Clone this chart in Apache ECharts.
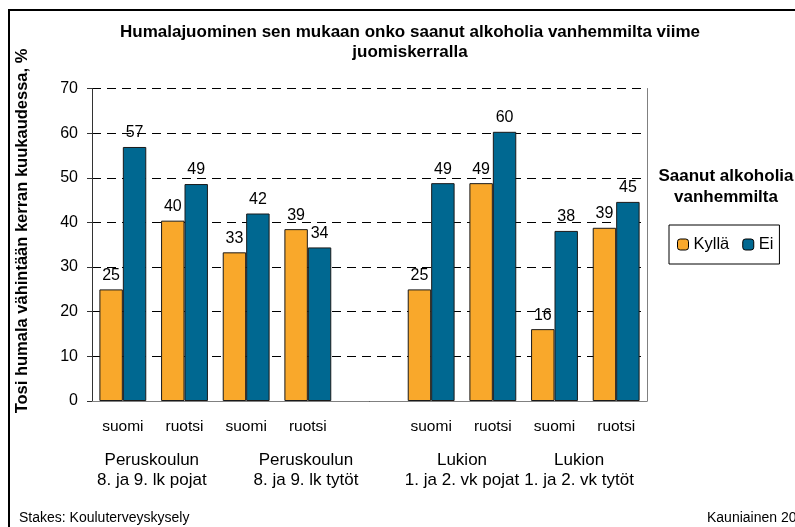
<!DOCTYPE html>
<html>
<head>
<meta charset="utf-8">
<script src="https://cdn.jsdelivr.net/npm/echarts@6/dist/echarts.min.js"></script>
<style>
html, body { margin: 0; padding: 0; background: #fff; }
#chart { width: 795px; height: 527px; }
</style>
</head>
<body>
<div id="chart"></div>
<script>
// data (bar heights; labels are rounded)
const categories = ['suomi', 'ruotsi', 'suomi', 'ruotsi', '', 'suomi', 'ruotsi', 'suomi', 'ruotsi']
const kylla = [25.0, 40.4, 33.3, 38.5, null, 25.0, 48.8, 16.1, 38.8]
const ei = [56.9, 48.6, 42.0, 34.4, null, 48.8, 60.3, 38.1, 44.6]
const groupLabels = ['Peruskoulun\n8. ja 9. lk pojat', 'Peruskoulun\n8. ja 9. lk tytöt', 'Lukion\n1. ja 2. vk pojat', 'Lukion\n1. ja 2. vk tytöt']
const groupPos = [0.97, 3.47, 6, 7.9]
const yMin = 0
const yMax = 70
const yStep = 10

const font = 'Arial, "Liberation Sans", sans-serif'
const txt = (size = 15, weight = 'normal') => ({
	color: '#000',
	fontFamily: font,
	fontSize: size,
	fontWeight: weight,
})

const chart = echarts.init(document.getElementById('chart'))

const barLabel = {
	show: true,
	position: 'top',
	distance: 6,
	...txt(16),
	formatter: (p) => (p.value == null ? '' : Math.round(p.value)),
}

chart.setOption({
	animation: false,
	title: [
		{
			text: 'Humalajuominen sen mukaan onko saanut alkoholia vanhemmilta viime\njuomiskerralla',
			left: 410,
			top: 22,
			textAlign: 'center',
			padding: 0,
			textStyle: { ...txt(17, 'bold'), lineHeight: 20 },
		},
		{
			text: 'Saanut alkoholia\nvanhemmilta',
			left: 726,
			top: 166,
			textAlign: 'center',
			padding: 0,
			textStyle: { ...txt(17, 'bold'), lineHeight: 21 },
		},
		{
			text: 'Stakes: Kouluterveyskysely',
			left: 19,
			top: 511,
			padding: 0,
			textStyle: txt(14),
		},
		{
			text: 'Kauniainen 2006',
			left: 707,
			top: 511,
			padding: 0,
			textStyle: txt(14),
		},
	],
	graphic: [
		{
			type: 'rect',
			shape: { x: 9, y: 10, width: 800, height: 530 },
			style: { fill: 'none', stroke: '#000', lineWidth: 2 },
			silent: true,
		},
		{
			type: 'text',
			x: 22,
			y: 231,
			rotation: Math.PI / 2,
			style: {
				text: 'Tosi humala vähintään kerran kuukaudessa, %',
				align: 'center',
				verticalAlign: 'middle',
				fill: '#000',
				font: 'bold 16.5px ' + font,
			},
		},
	],
	legend: {
		data: ['Kyllä', 'Ei'],
		left: 669,
		top: 225,
		orient: 'horizontal',
		padding: [11, 6, 11, 8],
		borderColor: '#000',
		borderWidth: 1,
		itemWidth: 11,
		itemHeight: 11,
		itemGap: 13,
		itemStyle: { borderColor: '#000', borderWidth: 1 },
		textStyle: txt(16.5),
	},
	grid: {
		left: 92,
		right: 148,
		top: 88.5,
		bottom: 126,
	},
	xAxis: [
		{
			type: 'category',
			data: categories,
			axisLine: { lineStyle: { color: '#808080', width: 1 } },
			axisTick: { show: false },
			axisLabel: { margin: 18, ...txt(15.5) },
		},
		{
			type: 'value',
			min: 0,
			max: categories.length,
			position: 'bottom',
			axisLine: { show: false },
			axisTick: { show: false },
			splitLine: { show: false },
			axisLabel: {
				customValues: groupPos,
				margin: 49,
				...txt(17),
				lineHeight: 20,
				formatter: (v) => {
					const i = groupPos.indexOf(v)
					return i >= 0 ? groupLabels[i] : ''
				},
			},
		},
	],
	yAxis: [
		{
			type: 'value',
			min: yMin,
			max: yMax,
			interval: yStep,
			axisLine: { show: true, lineStyle: { color: '#333', width: 1 } },
			axisTick: { show: true, inside: false, length: 5, lineStyle: { color: '#333' } },
			axisLabel: { margin: 14, ...txt(16) },
			splitLine: {
				show: true,
				lineStyle: { color: '#000', type: [9, 6], width: 1 },
			},
		},
		{
			type: 'value',
			min: yMin,
			max: yMax,
			interval: yStep,
			position: 'right',
			axisLine: { show: true, lineStyle: { color: '#808080', width: 1 } },
			axisTick: { show: false },
			axisLabel: { show: false },
			splitLine: { show: false },
		},
	],
	series: [
		{
			name: 'Kyllä',
			type: 'bar',
			data: kylla,
			barGap: 0,
			barCategoryGap: '24%',
			itemStyle: { color: '#F9A82B', borderColor: '#1a1a1a', borderWidth: 1 },
			label: barLabel,
		},
		{
			name: 'Ei',
			type: 'bar',
			data: ei,
			barGap: 0,
			barCategoryGap: '24%',
			itemStyle: { color: '#006891', borderColor: '#1a1a1a', borderWidth: 1 },
			label: barLabel,
		},
	],
})
</script>
</body>
</html>
